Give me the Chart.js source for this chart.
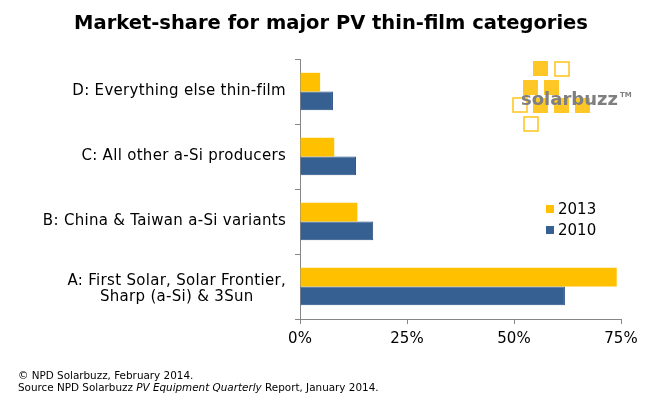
<!DOCTYPE html>
<html>
<head>
<meta charset="utf-8">
<script src="https://cdn.jsdelivr.net/npm/chart.js@4"></script>
<style>
  html, body { margin: 0; padding: 0; background: #fff; }
  #wrap { width: 660px; height: 399px; position: relative; }
</style>
</head>
<body>
<div id="wrap"><canvas id="shareChart"></canvas></div>
<script>
// categories, top to bottom as drawn
const categories = [
  'D: Everything else thin-film',
  'C: All other a-Si producers',
  'B: China & Taiwan a-Si variants',
  ['A: First Solar, Solar Frontier,', 'Sharp (a-Si) & 3Sun']
];
const share2013 = [4.7, 8.0, 13.4, 74.0];
const share2010 = [7.7, 13.1, 17.1, 61.9];
const xTicks = [0, 25, 50, 75];
const seriesNames = ['2013', '2010'];

const titleText = 'Market-share for major PV thin-film categories';
const footerLines = [
  [['\u00A9 NPD Solarbuzz, February 2014.', false]],
  [['Source NPD Solarbuzz ', false], ['PV Equipment Quarterly', true], [' Report, January 2014.', false]]
];

const FONT = '"DejaVu Sans", Verdana, sans-serif';
const AXIS_GREY = '#868686';

// title, category labels, legend, logo and footer
const decorations = {
  id: 'decorations',
  afterDraw(chart) {
    const ctx = chart.ctx;
    const area = chart.chartArea;
    const yScale = chart.scales.y;
    ctx.save();

    // title
    ctx.fillStyle = '#000';
    ctx.font = 'bold 19.5px ' + FONT;
    ctx.textAlign = 'center';
    ctx.textBaseline = 'middle';
    ctx.fillText(titleText, 331, 24);

    // category labels (multi-line ones centred on their widest line)
    ctx.font = '15px ' + FONT;
    ctx.letterSpacing = '0.3px';
    const right = area.left - 14;
    categories.forEach((lab, i) => {
      const lines = Array.isArray(lab) ? lab : [lab];
      const maxW = Math.max(...lines.map(l => ctx.measureText(l).width));
      const y = yScale.getPixelForValue(i);
      const lh = 16;
      const shift = lines.length > 1 ? 3 : 0;
      lines.forEach((l, k) => {
        ctx.fillText(l, right - maxW / 2, y + (k - (lines.length - 1) / 2) * lh + shift);
      });
    });
    ctx.letterSpacing = '0px';

    // legend
    ctx.font = '15px ' + FONT;
    ctx.textAlign = 'left';
    chart.data.datasets.forEach((ds, i) => {
      const yc = 209 + i * 21;
      ctx.fillStyle = ds.backgroundColor;
      ctx.fillRect(546, yc - 4, 8, 8);
      ctx.fillStyle = '#000';
      ctx.fillText(ds.label, 558, yc + 1);
    });

    // solarbuzz logo
    const sq = 15;
    const filled = [[533, 61], [523, 80], [544, 80], [533, 98], [554, 98], [575, 98]];
    const hollow = [[555, 62], [513, 98], [524, 117]];
    ctx.fillStyle = '#FFC726';
    filled.forEach(p => ctx.fillRect(p[0], p[1], sq, sq));
    ctx.strokeStyle = '#FFC726';
    ctx.lineWidth = 1.6;
    hollow.forEach(p => ctx.strokeRect(p[0], p[1], sq - 1, sq - 1));
    ctx.fillStyle = '#7f7f7f';
    ctx.font = 'bold 18px ' + FONT;
    ctx.textBaseline = 'alphabetic';
    ctx.fillText('solarbuzz', 521, 105);
    ctx.font = 'bold 7px ' + FONT;
    ctx.fillText('TM', 620, 97);

    // footer
    ctx.fillStyle = '#000';
    ctx.textBaseline = 'middle';
    footerLines.forEach((segs, k) => {
      let x = 18;
      const y = 376 + k * 12;
      segs.forEach(([txt, it]) => {
        ctx.font = (it ? 'italic ' : '') + '10.4px ' + FONT;
        ctx.fillText(txt, x, y);
        x += ctx.measureText(txt).width;
      });
    });

    ctx.restore();
  }
};

const ctxShare = document.getElementById('shareChart');
new Chart(ctxShare, {
  type: 'bar',
  data: {
    labels: categories,
    datasets: [
      {
        label: seriesNames[0],
        data: share2013,
        backgroundColor: '#FFC000',
        borderWidth: 0
      },
      {
        label: seriesNames[1],
        data: share2010,
        backgroundColor: '#376092',
        borderColor: '#254E85',
        borderWidth: 1
      }
    ]
  },
  options: {
    indexAxis: 'y',
    responsive: true,
    maintainAspectRatio: false,
    animation: false,
    categoryPercentage: 0.575,
    barPercentage: 1.0,
    layout: {
      padding: { top: 59, right: 39, bottom: 40, left: 0 }
    },
    plugins: {
      legend: { display: false },
      title: { display: false },
      tooltip: { enabled: false }
    },
    scales: {
      x: {
        min: 0,
        max: 75,
        afterBuildTicks: s => { s.ticks = xTicks.map(v => ({ value: v })); },
        afterFit: s => { s.height = 40; },
        border: { display: true, color: AXIS_GREY, width: 1 },
        grid: {
          drawOnChartArea: false,
          drawTicks: true,
          tickLength: 5,
          color: AXIS_GREY
        },
        ticks: {
          color: '#000',
          padding: 6,
          font: { family: FONT, size: 15 },
          callback: v => v + '%'
        }
      },
      y: {
        afterFit: s => { s.width = 300; },
        border: { display: true, color: AXIS_GREY, width: 1 },
        grid: {
          offset: true,
          drawOnChartArea: false,
          tickLength: 5,
          color: AXIS_GREY
        },
        ticks: { display: false }
      }
    }
  },
  plugins: [decorations]
});
</script>
</body>
</html>
